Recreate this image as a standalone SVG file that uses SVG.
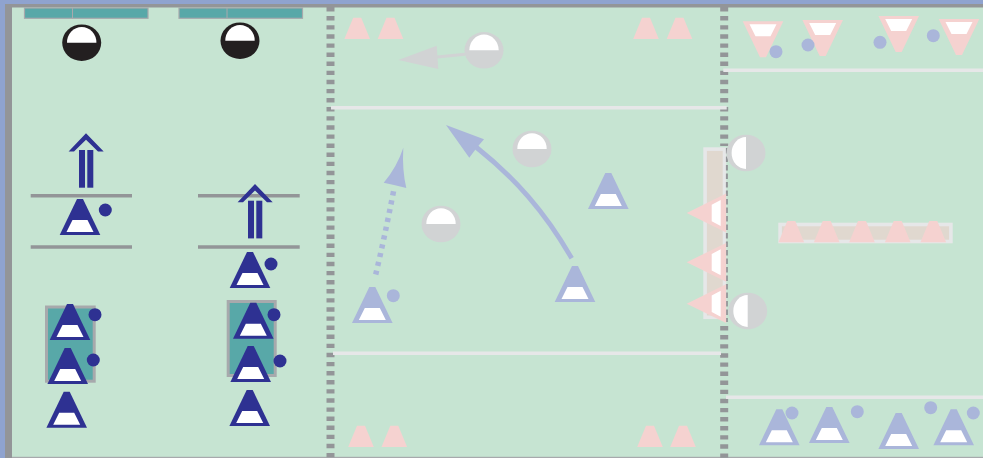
<svg xmlns="http://www.w3.org/2000/svg" width="983" height="458" viewBox="0 0 983 458">
<style>
.dk{fill:#2e3192}.lb{fill:#aab6da}.pk{fill:#f5d2d0}.wh{fill:#fff}.gc{fill:#d1d3d4}.bk{fill:#231f20}
.gl{stroke:#939598;stroke-width:3.4;fill:none}
.wl{stroke:#e6e7e8;stroke-width:3.4;fill:none}
.ds{stroke:#939598;stroke-width:8;stroke-dasharray:4.4 4.7;fill:none}
.tb{fill:#58a8a8;stroke:#a7a9ac;stroke-width:1.2}
.tb2{fill:#58a8a8;stroke:#a7a9ac;stroke-width:3}
.tr{fill:#e0d8cf;stroke:#e6e7e8;stroke-width:3.6}
</style>
<defs>
<g id="cone"><polygon points="-3,0 3,0 20.3,36 -20.3,36"/><polygon class="wh" points="-7.5,21 7.5,21 13.5,33 -13.5,33"/></g>
<polygon id="sm" points="-4,0 4,0 12.8,21.3 -12.8,21.3"/>
<g id="conel"><polygon class="pk" points="-39.6,0 -0.2,-19.4 -0.2,19.4"/><polygon class="wh" points="-14.6,-8.3 -5.6,-13 -5.6,13 -14.6,8.3"/></g>
<g id="ballk"><ellipse rx="19.5" ry="18.3" class="bk"/><path class="wh" d="M-14.7,0A14.7,15.8 0 0 1 14.7,0Z"/></g>
<g id="ballg"><ellipse rx="19.5" ry="18.3" class="gc"/><path class="wh" d="M-14.7,0A14.7,15.8 0 0 1 14.7,0Z"/></g>
<g id="ballv"><ellipse rx="19.5" ry="18.3" class="gc"/><path class="wh" d="M0,-15.9A14.4,15.9 0 0 0 0,15.9Z"/></g>
<g id="dbl"><polygon points="0,0 17.7,18.3 12,18.3 0,6.5 -12,18.3 -17.4,18.3"/><rect x="-7" y="16.7" width="6" height="37.7"/><rect x="1.3" y="16.7" width="6" height="37.7"/></g>
</defs>
<rect width="983" height="458" fill="#c6e4d2"/>
<g id="border">
<rect x="0" y="456.8" width="983" height="1.2" fill="#a7a9ac"/>
<rect x="5" y="4" width="978" height="3.5" fill="#939598"/>
<rect x="5" y="4" width="7" height="454" fill="#939598"/>
<rect width="983" height="4" fill="#8fa3cf"/>
<rect width="5" height="458" fill="#8fa3cf"/>
</g>
<g id="field-lines">
<path class="ds" d="M330.5,7V458"/>
<path class="ds" d="M724.2,7V146M724.2,326V458"/>
<path class="wl" d="M331,107.7H726.7M333,353.3H721M723.3,70.3H983M726,397.3H983"/>
</g>
<g id="trays">
<rect class="tr" x="705.1" y="149.1" width="19.4" height="168.2"/>
<rect class="tr" x="780.1" y="224.5" width="170.8" height="17"/>
<path d="M726.9,148V322" stroke="#939598" stroke-width="2" stroke-dasharray="5.5 3" fill="none"/>
</g>
<g id="connectors">
<path d="M465,54.3L437,57" stroke="#d1d3d4" stroke-width="3" fill="none"/>
<polygon class="gc" points="398.3,60 436.7,45.7 438.3,69"/>
<path d="M571.7,258.3C545,212 515,178 476,147" stroke="#aab6da" stroke-width="4.8" fill="none"/>
<polygon class="lb" points="446,125 484,139.3 476.5,148 469.3,157.7"/>
<path d="M375.7,274.5Q384,240 394,189" stroke="#aab6da" stroke-width="5.5" stroke-dasharray="4.2 4.8" fill="none"/>
<path class="lb" d="M403.3,147.7Q402,170 406.3,188Q395,185 383.7,182.7Q397,167 403.3,147.7Z"/>
</g>
<g id="teal-bars">
<rect class="tb" x="24.5" y="8" width="123.5" height="10.3"/><path d="M72.5,8V18.3" stroke="#a7a9ac" stroke-width="1"/>
<rect class="tb" x="179" y="8" width="123.5" height="10.3"/><path d="M227,8V18.3" stroke="#a7a9ac" stroke-width="1"/>
</g>
<g id="black-balls">
<use href="#ballk" x="81.7" y="42.7"/><use href="#ballk" x="240" y="40.7"/>
</g>
<g id="left-lines">
<path class="gl" d="M30.7,195.7H132M30.7,247H132M198,195.7H299.7M198,247H299.7"/>
</g>
<g id="teal-boxes">
<rect class="tb2" x="46.5" y="307" width="47.7" height="74.2"/>
<rect class="tb2" x="228.2" y="301.5" width="47" height="74"/>
</g>
<g id="dark-team" class="dk">
<use href="#dbl" x="86" y="133.3"/><use href="#dbl" x="255" y="184"/>
<use href="#cone" x="80" y="199"/><use href="#cone" x="70" y="304"/><use href="#cone" x="67.7" y="348"/><use href="#cone" x="66.7" y="391.7"/>
<use href="#cone" x="250" y="252"/><use href="#cone" x="253.3" y="302.7"/><use href="#cone" x="250.7" y="346"/><use href="#cone" x="249.7" y="390"/>
<circle cx="105.3" cy="210" r="6.5"/><circle cx="95" cy="314.7" r="6.5"/><circle cx="93.3" cy="360" r="6.5"/>
<circle cx="271" cy="264" r="6.5"/><circle cx="274" cy="314.7" r="6.5"/><circle cx="280" cy="361" r="6.5"/>
</g>
<g id="pink-markers" class="pk">
<use href="#sm" x="357.2" y="17.7"/><use href="#sm" x="390.5" y="17.7"/><use href="#sm" x="646" y="17.7"/><use href="#sm" x="679.5" y="17.7"/>
<use href="#sm" x="361" y="425.7"/><use href="#sm" x="394.3" y="425.7"/><use href="#sm" x="650" y="425.7"/><use href="#sm" x="683" y="425.7"/>
<use href="#sm" x="791.3" y="221"/><use href="#sm" x="826.7" y="221"/><use href="#sm" x="862" y="221"/><use href="#sm" x="897.7" y="221"/><use href="#sm" x="933.3" y="221"/>
</g>
<g id="pink-cones" class="pk">
<use href="#cone" transform="translate(763,57.3) rotate(180)"/>
<use href="#cone" transform="translate(822.7,56) rotate(180)"/>
<use href="#cone" transform="translate(898.7,52) rotate(180)"/>
<use href="#cone" transform="translate(959,55) rotate(180)"/>
<use href="#conel" x="726.3" y="213"/>
<use href="#conel" x="726.3" y="262.3"/>
<use href="#conel" x="726.3" y="303.7"/>
</g>
<g id="blue-team" class="lb">
<use href="#cone" x="608.3" y="173"/><use href="#cone" x="372.3" y="287"/><use href="#cone" x="575" y="266"/>
<use href="#cone" x="779.3" y="409.3"/><use href="#cone" x="829.3" y="407"/><use href="#cone" x="898.7" y="413"/><use href="#cone" x="953.7" y="409.3"/>
<circle cx="393.3" cy="295.7" r="6.5"/><circle cx="792" cy="413" r="6.5"/><circle cx="857.3" cy="411.7" r="6.5"/><circle cx="930.7" cy="407.7" r="6.5"/><circle cx="973.3" cy="413" r="6.5"/>
<circle cx="776" cy="51.7" r="6.5"/><circle cx="808" cy="45" r="6.5"/><circle cx="880" cy="42.3" r="6.5"/><circle cx="933.3" cy="35.7" r="6.5"/>
</g>
<g id="gray-balls">
<use href="#ballg" x="484" y="50.3"/><use href="#ballg" x="532" y="149"/><use href="#ballg" x="441" y="224"/>
<use href="#ballv" x="746" y="153"/><use href="#ballv" x="747.7" y="311"/>
</g>
</svg>
